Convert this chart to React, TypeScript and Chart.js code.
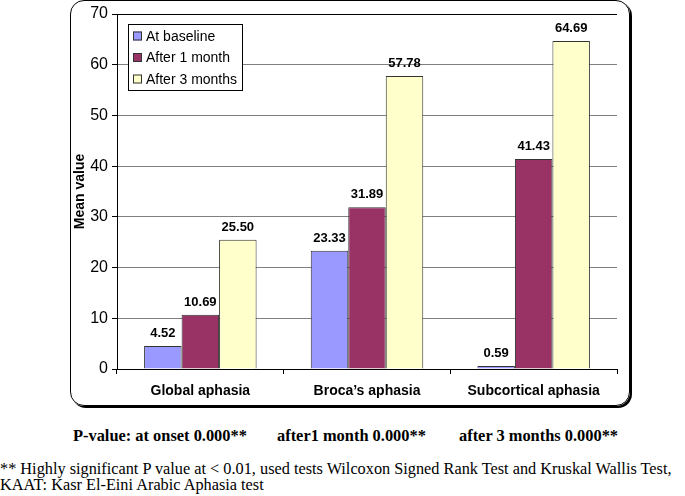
import React, { useEffect, useRef } from "react";
import { Chart, registerables } from "chart.js";

Chart.register(...registerables);

const categories = ["Global aphasia", "Broca\u2019s aphasia", "Subcortical aphasia"];
const seriesNames = ["At baseline", "After 1 month", "After 3 months"];
const baseline = [4.52, 23.33, 0.59];
const month1 = [10.69, 31.89, 41.43];
const month3 = [25.5, 57.78, 64.69];
const valueLabels = [
  ["4.52", "23.33", "0.59"],
  ["10.69", "31.89", "41.43"],
  ["25.50", "57.78", "64.69"],
];
const colors = ["#9999FF", "#993366", "#FFFFCC"];
const yTicks = [0, 10, 20, 30, 40, 50, 60, 70];

const labelPlugin = {
  id: "valueLabels",
  afterDatasetsDraw(chart: any) {
    const ctx = chart.ctx;
    ctx.save();
    ctx.font = "bold 13px Arial, 'Liberation Sans', sans-serif";
    ctx.fillStyle = "#000";
    ctx.textAlign = "center";
    ctx.textBaseline = "bottom";
    chart.data.datasets.forEach((ds: any, di: number) => {
      const meta = chart.getDatasetMeta(di);
      meta.data.forEach((bar: any, i: number) => {
        ctx.fillText(valueLabels[di][i], bar.x, bar.y - 6);
      });
    });
    ctx.restore();
  },
  afterDraw(chart: any) {
    const ctx = chart.ctx;
    const a = chart.chartArea;
    const x0 = a.left + 11;
    const y0 = a.top + 10;
    const w = 114;
    const h = 66;
    ctx.save();
    ctx.fillStyle = "#fff";
    ctx.fillRect(x0, y0, w, h);
    ctx.strokeStyle = "#000";
    ctx.lineWidth = 1;
    ctx.strokeRect(x0 + 0.5, y0 + 0.5, w, h);
    ctx.font = "14px Arial, 'Liberation Sans', sans-serif";
    ctx.textBaseline = "middle";
    ctx.textAlign = "left";
    seriesNames.forEach((name, i) => {
      const cy = y0 + 12 + i * 21.5;
      ctx.fillStyle = colors[i];
      ctx.fillRect(x0 + 5, cy - 4.5, 9, 9);
      ctx.strokeStyle = "#333";
      ctx.strokeRect(x0 + 5.5, cy - 4, 8, 8);
      ctx.fillStyle = "#000";
      ctx.fillText(name, x0 + 18, cy + 1);
    });
    ctx.restore();
  },
};

export default function App() {
  const ref = useRef<HTMLCanvasElement>(null);
  useEffect(() => {
    document.body.style.margin = "0";
    const chart = new Chart(ref.current!, {
      type: "bar",
      data: {
        labels: categories,
        datasets: [baseline, month1, month3].map((d, i) => ({
          label: seriesNames[i],
          data: d,
          backgroundColor: colors[i],
          borderColor: "#333333",
          borderWidth: 1,
          categoryPercentage: 0.675,
          barPercentage: 1,
        })),
      },
      options: {
        animation: false,
        responsive: false,
        maintainAspectRatio: false,
        layout: { padding: { top: 14, right: 17, left: 0, bottom: 0 } },
        plugins: { legend: { display: false }, tooltip: { enabled: false } },
        scales: {
          x: {
            grid: { offset: true, drawOnChartArea: false, color: "#000", tickLength: 5 },
            border: { color: "#000", width: 1 },
            ticks: {
              color: "#000",
              font: { family: "Arial, 'Liberation Sans', sans-serif", size: 14, weight: "bold" },
              padding: 9,
            },
            afterFit: (s: any) => { s.height = 39; },
          },
          y: {
            min: 0,
            max: 70,
            afterBuildTicks: (s: any) => { s.ticks = yTicks.map((v) => ({ value: v })); },
            grid: {
              color: (c: any) => (c.tick && c.tick.value === 70 ? "#000" : "#808080"),
              tickColor: "#000",
              tickLength: 5,
            },
            border: { color: "#000", width: 1 },
            ticks: {
              color: "#000",
              font: { family: "Arial, 'Liberation Sans', sans-serif", size: 16 },
              padding: 4,
            },
            title: {
              display: true,
              text: "Mean value",
              color: "#000",
              font: { family: "Arial, 'Liberation Sans', sans-serif", size: 14, weight: "bold" },
              padding: 0,
            },
            afterFit: (s: any) => { s.width = 45; },
          },
        },
      },
      plugins: [labelPlugin],
    });
    return () => chart.destroy();
  }, []);

  const serif = "'Liberation Serif', 'Times New Roman', serif";
  return (
    <div style={{ position: "relative", width: 685, height: 496, background: "#fff", overflow: "hidden" }}>
      <div
        style={{
          position: "absolute",
          left: 70,
          top: 0,
          width: 558,
          height: 404,
          border: "1.5px solid #000",
          borderRadius: 14,
          boxShadow: "2px 2px 0 #000",
        }}
      />
      <canvas
        ref={ref}
        width={562}
        height={408}
        style={{ position: "absolute", left: 72, top: 0, width: 562, height: 408 }}
      />
      <div style={{ position: "absolute", top: 427, left: 0, width: 685, height: 20, fontFamily: serif, fontSize: 16.4, lineHeight: "18px", fontWeight: "bold", color: "#000", whiteSpace: "nowrap" }}>
        <span style={{ position: "absolute", left: 73 }}>P-value: at onset 0.000**</span>
        <span style={{ position: "absolute", left: 277 }}>after1 month 0.000**</span>
        <span style={{ position: "absolute", left: 459 }}>after 3 months 0.000**</span>
      </div>
      <div style={{ position: "absolute", top: 461, left: 0, width: 700, fontFamily: serif, fontSize: 16.3, lineHeight: "16px", color: "#000", whiteSpace: "nowrap" }}>
        <div>** Highly significant P value at &lt; 0.01, used tests Wilcoxon Signed Rank Test and Kruskal Wallis Test,</div>
        <div>KAAT: Kasr El-Eini Arabic Aphasia test</div>
      </div>
    </div>
  );
}
